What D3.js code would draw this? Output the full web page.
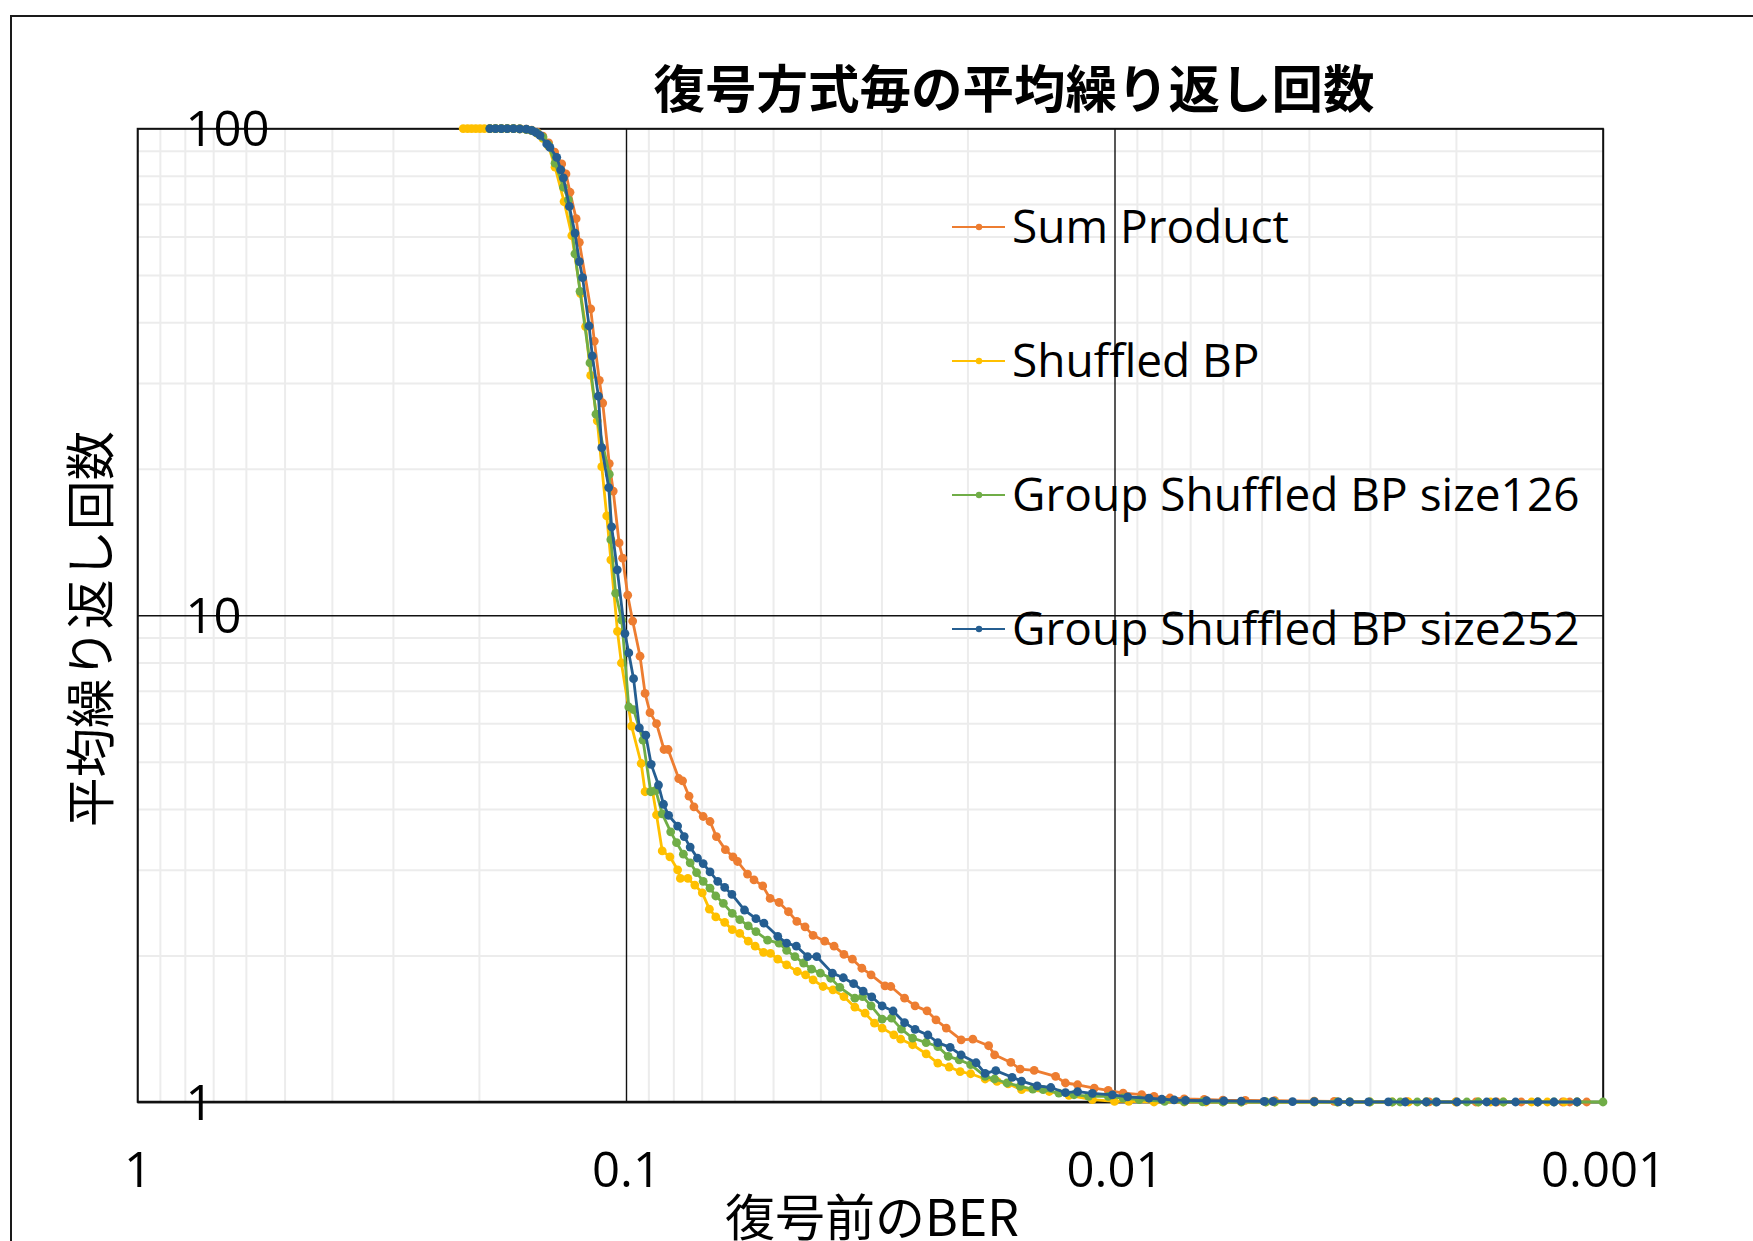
<!DOCTYPE html>
<html>
<head>
<meta charset="utf-8">
<script src="https://cdn.jsdelivr.net/npm/d3@7"></script>
<style>
  html, body { margin: 0; padding: 0; background: #fff; }
  svg { display: block; }
</style>
</head>
<body>
<div id="chart"></div>
<script>
// series: [pre-decoding BER, average iterations]
const sumProduct = [
  [0.19, 100], [0.185, 100], [0.18, 100], [0.175, 100], [0.17, 100], [0.165, 99.9], [0.16, 99.7], [0.156, 99.3],
  [0.152, 98.3], [0.148, 96.5], [0.144, 93.5], [0.14, 89.5], [0.1354, 84.6], [0.1327, 80.7], [0.1302, 74],
  [0.1265, 65.3], [0.1246, 58.4], [0.1181, 42.6], [0.1161, 36.6], [0.1134, 30.4], [0.1116, 27.3], [0.1082, 20.5],
  [0.1062, 18.0], [0.1033, 14.08], [0.1016, 13.1], [0.0992, 11.0], [0.0969, 9.73], [0.0936, 8.24], [0.0914, 6.91],
  [0.0893, 6.31], [0.0866, 5.99], [0.0836, 5.30], [0.082, 5.30], [0.078, 4.62], [0.0766, 4.57], [0.0743, 4.25],
  [0.0726, 4.04], [0.0695, 3.86], [0.0673, 3.77], [0.0653, 3.51], [0.0626, 3.30], [0.0604, 3.19], [0.0591, 3.12],
  [0.0564, 2.94], [0.0547, 2.86], [0.0525, 2.78], [0.0507, 2.62], [0.0486, 2.57], [0.0465, 2.46], [0.0447, 2.35],
  [0.043, 2.29], [0.0414, 2.20], [0.0392, 2.14], [0.0375, 2.09], [0.0358, 2.01], [0.0344, 1.965], [0.0329, 1.883],
  [0.0315, 1.825], [0.0295, 1.733], [0.0287, 1.727], [0.0269, 1.634], [0.0256, 1.576], [0.0242, 1.539],
  [0.0232, 1.475], [0.0221, 1.419], [0.0206, 1.342], [0.0195, 1.346], [0.0181, 1.305], [0.0176, 1.25],
  [0.0163, 1.206], [0.0156, 1.168], [0.0146, 1.161], [0.0132, 1.129], [0.0126, 1.094], [0.0119, 1.085],
  [0.011, 1.068], [0.0103, 1.056], [0.0096, 1.043], [0.0088, 1.035], [0.0083, 1.027], [0.0077, 1.019],
  [0.0072, 1.015], [0.00655, 1.012], [0.006, 1.009], [0.0054, 1.008], [0.0047, 1.006], [0.0039, 1.004],
  [0.00355, 1.003], [0.00252, 1.002], [0.00227, 1.001], [0.002, 1.001], [0.00182, 1], [0.00165, 1],
  [0.00147, 1], [0.00136, 1], [0.00121, 1], [0.00117, 1], [0.00108, 1]
];
const shuffledBP = [
  [0.2154, 100], [0.211, 100], [0.207, 100], [0.203, 100], [0.199, 100], [0.195, 100], [0.19, 100], [0.185, 100],
  [0.18, 100], [0.175, 100], [0.17, 100], [0.165, 99.9], [0.16, 99.6], [0.156, 99], [0.152, 97.8], [0.148, 95.5],
  [0.144, 92], [0.1397, 83.3], [0.1339, 70.8], [0.1291, 60.3], [0.1238, 45.8], [0.121, 39.2], [0.1181, 31.1],
  [0.1145, 25.1], [0.1121, 20.2], [0.1095, 16.0], [0.1074, 13.0], [0.1041, 9.27], [0.1022, 7.98], [0.0974, 5.92],
  [0.0931, 4.96], [0.0914, 4.34], [0.0882, 4.34], [0.0866, 3.89], [0.0843, 3.28], [0.0813, 3.19], [0.0784, 3.00],
  [0.0774, 2.88], [0.0747, 2.88], [0.0723, 2.79], [0.0698, 2.69], [0.0675, 2.49], [0.0655, 2.40], [0.0628, 2.34],
  [0.0606, 2.26], [0.0585, 2.22], [0.0562, 2.14], [0.0544, 2.09], [0.0523, 2.03], [0.0506, 2.02], [0.0489, 1.965],
  [0.0469, 1.913], [0.0446, 1.854], [0.0429, 1.825], [0.0414, 1.782], [0.0395, 1.727], [0.0377, 1.70],
  [0.0358, 1.647], [0.034, 1.566], [0.0324, 1.522], [0.031, 1.452], [0.0299, 1.419], [0.0283, 1.374],
  [0.0274, 1.346], [0.0259, 1.311], [0.0243, 1.256], [0.023, 1.202], [0.0218, 1.18], [0.0207, 1.155],
  [0.0197, 1.143], [0.0184, 1.115], [0.0174, 1.102], [0.0165, 1.09], [0.0155, 1.06], [0.0136, 1.051],
  [0.0124, 1.032], [0.0111, 1.011], [0.01, 1.003], [0.00935, 1.003], [0.0083, 1], [0.0072, 1], [0.0065, 1],
  [0.006, 1], [0.0055, 1], [0.0049, 1], [0.0047, 1], [0.0039, 1], [0.0035, 1], [0.0033, 1], [0.003, 1],
  [0.0027, 1], [0.0025, 1], [0.0023, 1], [0.002, 1], [0.0018, 1], [0.0017, 1], [0.0016, 1], [0.0014, 1],
  [0.0013, 1], [0.0012, 1], [0.00113, 1]
];
const groupSize126 = [
  [0.19, 100], [0.185, 100], [0.18, 100], [0.175, 100], [0.17, 100], [0.165, 99.9], [0.16, 99.6], [0.156, 99.1],
  [0.152, 98], [0.148, 96], [0.144, 92.5], [0.1397, 84.9], [0.1343, 75.8], [0.1312, 71.4], [0.1272, 55.3],
  [0.1242, 46.3], [0.1185, 33.0], [0.1152, 25.9], [0.1082, 19.5], [0.1074, 14.3], [0.105, 11.1], [0.102, 9.77],
  [0.0987, 6.48], [0.0965, 6.40], [0.0923, 5.54], [0.089, 4.34], [0.0869, 4.37], [0.0843, 3.91], [0.081, 3.59],
  [0.0788, 3.41], [0.0763, 3.23], [0.0739, 3.10], [0.0717, 2.96], [0.0695, 2.84], [0.0673, 2.75], [0.0655, 2.65],
  [0.0632, 2.56], [0.0606, 2.44], [0.0585, 2.37], [0.0562, 2.30], [0.0542, 2.24], [0.0513, 2.15], [0.0486, 2.12],
  [0.0469, 2.05], [0.0451, 1.99], [0.0433, 1.93], [0.0417, 1.875], [0.04, 1.84], [0.0381, 1.796], [0.0365, 1.72],
  [0.034, 1.634], [0.0328, 1.647], [0.0315, 1.576], [0.0299, 1.48], [0.0286, 1.487], [0.0273, 1.412],
  [0.0259, 1.353], [0.0243, 1.325], [0.023, 1.30], [0.0219, 1.241], [0.0208, 1.221], [0.0197, 1.193],
  [0.0184, 1.129], [0.0176, 1.115], [0.0166, 1.094], [0.0156, 1.077], [0.0147, 1.063], [0.014, 1.06],
  [0.013, 1.043], [0.0121, 1.035], [0.0113, 1.027], [0.0103, 1.027], [0.0096, 1.019], [0.0089, 1.011],
  [0.0079, 1.003], [0.0072, 1.002], [0.0066, 1.001], [0.006, 1], [0.0055, 1], [0.0049, 1], [0.0047, 1],
  [0.0039, 1], [0.0035, 1], [0.0033, 1], [0.003, 1], [0.0027, 1], [0.0026, 1], [0.0024, 1], [0.0023, 1],
  [0.0022, 1], [0.0019, 1], [0.0018, 1], [0.0016, 1], [0.00136, 1], [0.00126, 1], [0.00113, 1], [0.001, 1]
];
const groupSize252 = [
  [0.19, 100], [0.185, 100], [0.18, 100], [0.175, 100], [0.17, 100], [0.165, 99.9], [0.16, 99.7], [0.156, 99.2],
  [0.153, 98.2], [0.150, 96.8], [0.1453, 93], [0.1431, 91.5], [0.1386, 87.3], [0.136, 82.3], [0.1343, 79.2],
  [0.1306, 69.2], [0.1272, 61], [0.1246, 53.3], [0.1227, 49.4], [0.119, 39.3], [0.1172, 34.1], [0.1139, 28.2],
  [0.1121, 22.1], [0.1085, 18.3], [0.107, 15.2], [0.1042, 12.4], [0.1005, 9.17], [0.0987, 8.37], [0.0965, 7.41],
  [0.0939, 5.87], [0.0911, 5.67], [0.0888, 4.94], [0.0858, 4.48], [0.0838, 4.09], [0.0818, 3.88], [0.0784, 3.69],
  [0.076, 3.51], [0.0739, 3.34], [0.0714, 3.17], [0.0695, 3.09], [0.0673, 2.97], [0.0649, 2.84], [0.0628, 2.76],
  [0.0607, 2.67], [0.0572, 2.48], [0.0542, 2.38], [0.0522, 2.33], [0.0489, 2.19], [0.0469, 2.12], [0.0448, 2.09],
  [0.0425, 1.99], [0.0407, 1.99], [0.0378, 1.84], [0.0359, 1.80], [0.0342, 1.75], [0.0327, 1.69], [0.0314, 1.645],
  [0.0299, 1.575], [0.0284, 1.538], [0.0269, 1.455], [0.0256, 1.41], [0.0241, 1.373], [0.023, 1.324],
  [0.0217, 1.295], [0.0206, 1.249], [0.0192, 1.204], [0.0184, 1.145], [0.0175, 1.16], [0.0162, 1.124],
  [0.0155, 1.104], [0.0144, 1.079], [0.0135, 1.071], [0.0126, 1.045], [0.0119, 1.05], [0.0111, 1.042],
  [0.0101, 1.034], [0.0094, 1.025], [0.0085, 1.018], [0.008, 1.013], [0.00755, 1.01], [0.00715, 1.008],
  [0.00648, 1.006], [0.00597, 1.005], [0.0055, 1.004], [0.00494, 1.003], [0.00474, 1.003], [0.00432, 1.002],
  [0.0039, 1.002], [0.00348, 1.001], [0.0033, 1.001], [0.00302, 1.001], [0.00275, 1.001], [0.00254, 1],
  [0.0023, 1], [0.00219, 1], [0.00199, 1], [0.00173, 1], [0.00166, 1], [0.00151, 1], [0.00136, 1],
  [0.00126, 1], [0.00113, 1]
];

const seriesNames = ['Sum Product', 'Shuffled BP', 'Group Shuffled BP size126', 'Group Shuffled BP size252'];
const seriesColors = ['#ED7D31', '#FFC000', '#70AD47', '#255E91'];
const xTicks = [1, 0.1, 0.01, 0.001];
const xTickLabels = ['1', '0.1', '0.01', '0.001'];
const yTicks = [1, 10, 100];
const yTickLabels = ['1', '10', '100'];
const chartTitle = '復号方式毎の平均繰り返し回数';
const xTitle = '復号前のBER';
const yTitle = '平均繰り返し回数';

const width = 1753;
const height = 1241;
const plot = { left: 137.5, right: 1603, top: 128.6, bottom: 1102 };
const latin = '"Open Sans", "Liberation Sans", sans-serif';
const cjk = '"Noto Sans CJK JP", "Noto Sans", sans-serif';

const svg = d3.select('#chart').append('svg')
    .attr('width', width)
    .attr('height', height);

svg.append('rect')
    .attr('width', width)
    .attr('height', height)
    .attr('fill', '#fff');

// outer chart frame (cropped on the right and bottom)
svg.append('rect')
    .attr('x', 11)
    .attr('y', 16)
    .attr('width', width + 50)
    .attr('height', height + 50)
    .attr('fill', 'none')
    .attr('stroke', '#1a1a1a')
    .attr('stroke-width', 2);

const x = d3.scaleLog().domain([1, 0.001]).range([plot.left, plot.right]);
const y = d3.scaleLog().domain([1, 100]).range([plot.bottom, plot.top]);

// minor gridlines
const minorX = [];
const minorY = [];
[1, 0.1, 0.01].forEach(decade => {
    for (let k = 2; k <= 9; k++) minorX.push(decade * k / 10);
});
[1, 10].forEach(decade => {
    for (let k = 2; k <= 9; k++) minorY.push(decade * k);
});

svg.append('g')
    .attr('transform', 'translate(0,' + plot.bottom + ')')
    .call(d3.axisBottom(x).tickValues(minorX).tickSize(-(plot.bottom - plot.top)).tickFormat(''))
    .call(g => g.select('.domain').remove())
    .call(g => g.selectAll('line').attr('stroke', '#ececec').attr('stroke-width', 2));

svg.append('g')
    .attr('transform', 'translate(' + plot.left + ',0)')
    .call(d3.axisLeft(y).tickValues(minorY).tickSize(-(plot.right - plot.left)).tickFormat(''))
    .call(g => g.select('.domain').remove())
    .call(g => g.selectAll('line').attr('stroke', '#ececec').attr('stroke-width', 2));

// major gridlines
svg.append('g')
    .attr('transform', 'translate(0,' + plot.bottom + ')')
    .call(d3.axisBottom(x).tickValues(xTicks).tickSize(-(plot.bottom - plot.top)).tickFormat(''))
    .call(g => g.select('.domain').remove())
    .call(g => g.selectAll('line').attr('stroke', '#111').attr('stroke-width', 1.4));

svg.append('g')
    .attr('transform', 'translate(' + plot.left + ',0)')
    .call(d3.axisLeft(y).tickValues(yTicks).tickSize(-(plot.right - plot.left)).tickFormat(''))
    .call(g => g.select('.domain').remove())
    .call(g => g.selectAll('line').attr('stroke', '#111').attr('stroke-width', 1.4));

svg.append('rect')
    .attr('x', plot.left)
    .attr('y', plot.top)
    .attr('width', plot.right - plot.left)
    .attr('height', plot.bottom - plot.top)
    .attr('fill', 'none')
    .attr('stroke', '#111')
    .attr('stroke-width', 1.6);

svg.append('line')
    .attr('x1', plot.left).attr('x2', plot.right)
    .attr('y1', plot.bottom).attr('y2', plot.bottom)
    .attr('stroke', '#111')
    .attr('stroke-width', 2.6);

// x tick labels
svg.append('g')
    .attr('transform', 'translate(0,' + plot.bottom + ')')
    .call(d3.axisBottom(x).tickValues(xTicks).tickSize(0).tickPadding(0)
        .tickFormat((d, i) => xTickLabels[i]))
    .call(g => g.select('.domain').remove())
    .call(g => g.selectAll('text')
        .attr('y', 85)
        .attr('dy', 0)
        .attr('fill', '#000')
        .style('font-family', latin)
        .style('font-size', '49px'));

// y tick labels sit inside the plot area
svg.append('g')
    .attr('transform', 'translate(' + plot.left + ',0)')
    .call(d3.axisLeft(y).tickValues(yTicks).tickSize(0)
        .tickFormat((d, i) => yTickLabels[i]))
    .call(g => g.select('.domain').remove())
    .call(g => g.selectAll('text')
        .attr('x', 48)
        .attr('dy', '0.35em')
        .attr('text-anchor', 'start')
        .attr('fill', '#000')
        .style('font-family', latin)
        .style('font-size', '49px'));

// series
const allSeries = [sumProduct, shuffledBP, groupSize126, groupSize252];
const line = d3.line()
    .x(d => x(d[0]))
    .y(d => y(d[1]));

allSeries.forEach((data, i) => {
    const g = svg.append('g').attr('class', 'series');
    g.append('path')
        .datum(data)
        .attr('fill', 'none')
        .attr('stroke', seriesColors[i])
        .attr('stroke-width', 2.8)
        .attr('stroke-linejoin', 'round')
        .attr('d', line);
    g.selectAll('circle')
        .data(data)
        .enter()
        .append('circle')
        .attr('cx', d => x(d[0]))
        .attr('cy', d => y(d[1]))
        .attr('r', 4.4)
        .attr('fill', seriesColors[i]);
});

// legend
const legend = svg.append('g')
    .attr('transform', 'translate(952,227)');
seriesNames.forEach((name, i) => {
    const row = legend.append('g').attr('transform', 'translate(0,' + (i * 134) + ')');
    row.append('line')
        .attr('x1', 0).attr('x2', 53)
        .attr('stroke', seriesColors[i])
        .attr('stroke-width', 2.2);
    row.append('circle')
        .attr('cx', 27)
        .attr('r', 3.2)
        .attr('fill', seriesColors[i]);
    row.append('text')
        .attr('x', 60)
        .attr('dy', '0.35em')
        .attr('fill', '#000')
        .style('font-family', latin)
        .style('font-size', '46px')
        .text(name);
});

// titles
svg.append('text')
    .attr('x', 1014)
    .attr('y', 85)
    .attr('dominant-baseline', 'central')
    .attr('text-anchor', 'middle')
    .attr('fill', '#000')
    .style('font-family', cjk)
    .style('font-weight', 700)
    .style('font-size', '51.5px')
    .text(chartTitle);

svg.append('text')
    .attr('x', 872)
    .attr('y', 1236)
    .attr('text-anchor', 'middle')
    .attr('fill', '#000')
    .style('font-family', cjk)
    .style('font-size', '50px')
    .text(xTitle);

svg.append('text')
    .attr('transform', 'translate(87,629) rotate(-90)')
    .attr('dominant-baseline', 'central')
    .attr('text-anchor', 'middle')
    .attr('fill', '#000')
    .style('font-family', cjk)
    .style('font-size', '49.5px')
    .text(yTitle);
</script>
</body>
</html>
